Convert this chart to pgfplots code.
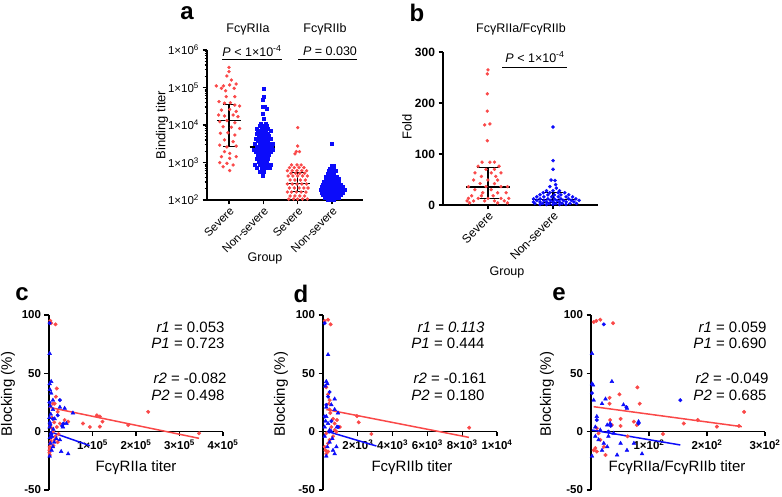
\documentclass[border=0pt]{standalone}
\usepackage{fontspec}
\setmainfont{Liberation Sans}
\usepackage{pgfplots}
\pgfplotsset{compat=1.18}
\definecolor{pr}{RGB}{250,72,72}
\definecolor{pb}{RGB}{12,12,250}
\newcommand\fs[1]{\fontsize{#1}{#1}\selectfont}
\pgfplotsset{
  prism/.style={
    scale only axis, clip=false,
    axis line style={line width=1.6pt,-},
    tick style={line width=1.3pt,black},
    tick align=outside,
    major tick length=4.5pt,
    minor tick length=2.5pt,
  },
  rdot/.style={only marks, mark=*, mark size=1.5pt, color=pr, mark options={draw=none, fill=pr}},
  bsq/.style={only marks, mark=square*, mark size=1.5pt, color=pb, mark options={draw=none, fill=pb}},
  bdot/.style={only marks, mark=*, mark size=1.6pt, color=pb, mark options={draw=none, fill=pb}},
  rdot2/.style={only marks, mark=*, mark size=1.8pt, color=pr, mark options={draw=none, fill=pr}},
  bdot2/.style={only marks, mark=*, mark size=1.8pt, color=pb, mark options={draw=none, fill=pb}},
  btri/.style={only marks, mark=triangle*, mark size=2.2pt, color=pb, mark options={draw=none, fill=pb}},
  bar/.style={black, line width=1.3pt},
  blk/.style={
    axis x line*=middle, axis y line*=left,
    ymin=-50, ymax=100, ytick={-50,0,50,100}, yticklabels={-50,0,50,100},
    tick label style={font=\bfseries\fs{11.5}},
    scaled x ticks=false, hide obscured x ticks=false, hide obscured y ticks=false,
  },
}
\begin{document}
\begin{tikzpicture}
\path[use as bounding box] (0,0) rectangle (782pt,496pt);

% ---------- panel a ----------
\begin{axis}[prism, at={(207pt,296pt)}, anchor=south west, width=156pt, height=150pt,
  axis lines*=left, ymode=log, xmin=-0.64, xmax=3.9, ymin=1e2, ymax=1e6,
  xtick={0,1,2,3}, xticklabels={Severe,Non-severe,Severe,Non-severe},
  xticklabel style={rotate=45, anchor=north east, font=\fs{11.5}, inner sep=1pt},
  ytick={1e2,1e3,1e4,1e5,1e6},
  yticklabels={1×10\textsuperscript{2},1×10\textsuperscript{3},1×10\textsuperscript{4},1×10\textsuperscript{5},1×10\textsuperscript{6}},
  yticklabel style={font=\fs{11.5}}]
\addplot[rdot] coordinates {
(0,3.45e5) (0,2.64e5) (-0.06,2.03e5) (0.07,1.58e5)
(-0.37,1.10e5) (-0.16,1.10e5) (0.02,1.17e5) (0.21,1.24e5)
(-0.22,9.5e4) (0.15,9.5e4) (-0.10,8.2e4)
(-0.08,5.7e4) (0.17,5.7e4)
(-0.29,4.2e4) (-0.13,3.8e4) (0.04,3.9e4) (0.17,3.4e4) (0.31,3.2e4)
(-0.22,2.5e4) (0.02,2.6e4) (0.21,2.3e4)
(-0.30,1.85e4) (-0.13,1.74e4) (0.12,1.85e4) (0.26,1.67e4)
(-0.27,1.23e4) (-0.06,1.31e4) (0.17,1.15e4)
(-0.17,9.0e3) (0.07,8.7e3) (0.31,8.1e3)
(-0.25,6.0e3) (-0.03,6.2e3) (0.17,5.4e3)
(-0.13,4.0e3) (0.12,3.6e3)
(-0.27,2.9e3) (-0.06,2.6e3) (0.21,2.75e3)
(-0.13,1.95e3) (0.02,1.75e3)
(-0.22,1.43e3) (0.02,1.29e3) (0.21,1.43e3)
(-0.27,990) (-0.06,950) (-0.17,770) (0.02,610) (0.12,860)
};
\addplot[bsq] coordinates {
(1.0,9.5e4) (1.0,5.7e4) (0.97,4.6e4) (0.97,3.1e4) (1.05,3.1e4) (1.1,2.8e4) (0.98,2.05e4) (1.0,1.5e4)
(0.92,1.1e4) (1.06,1.1e4)
(0.88,9.4e3) (0.98,9.4e3) (1.1,9.4e3)
(0.82,8.1e3) (0.94,8.1e3) (1.02,8.1e3) (1.14,8.1e3)
(0.85,6.9e3) (0.96,6.9e3) (1.08,6.9e3) (1.2,6.9e3)
(0.8,6.0e3) (0.9,6.0e3) (1.0,6.0e3) (1.12,6.0e3)
(0.86,5.1e3) (0.96,5.1e3) (1.06,5.1e3) (1.16,5.1e3)
(0.78,4.3e3) (0.9,4.3e3) (1.0,4.3e3) (1.1,4.3e3) (1.2,4.3e3)
(0.84,3.7e3) (0.94,3.7e3) (1.04,3.7e3) (1.14,3.7e3)
(0.76,3.1e3) (0.88,3.1e3) (0.98,3.1e3) (1.08,3.1e3) (1.18,3.1e3) (1.28,3.1e3)
(0.8,2.6e3) (0.92,2.6e3) (1.02,2.6e3) (1.12,2.6e3) (1.24,2.6e3)
(0.72,2.2e3) (0.84,2.2e3) (0.96,2.2e3) (1.06,2.2e3) (1.16,2.2e3) (1.26,2.2e3)
(0.78,1.9e3) (0.9,1.9e3) (1.0,1.9e3) (1.1,1.9e3) (1.2,1.9e3)
(0.84,1.6e3) (0.96,1.6e3) (1.06,1.6e3) (1.16,1.6e3)
(0.8,1.3e3) (0.92,1.3e3) (1.04,1.3e3) (1.14,1.3e3)
(0.86,1.07e3) (0.98,1.07e3) (1.1,1.07e3)
(0.76,875) (0.88,875) (1.0,875) (1.12,875) (1.22,875)
(0.82,710) (0.94,710) (1.06,710) (1.18,710)
(0.9,580) (1.02,580) (0.98,440)
};
\addplot[rdot] coordinates {
(2.0,8.5e3) (2.0,2.75e3) (1.96,1.95e3) (2.05,1.95e3) (1.92,1.7e3)
(1.82,860) (1.98,860) (2.1,860)
(1.76,730) (1.9,730) (2.04,730) (2.18,730)
(1.7,605) (1.84,605) (1.98,605) (2.12,605) (2.26,605)
(1.8,515) (1.94,515) (2.06,515) (2.2,515)
(1.72,437) (1.86,437) (2.0,437) (2.14,437) (2.28,437)
(1.78,341) (1.92,341) (2.08,341) (2.22,341)
(1.7,267) (1.84,267) (1.98,267) (2.12,267) (2.26,267)
(1.76,209) (1.9,209) (2.04,209) (2.18,209) (2.3,209)
(1.7,163) (1.82,163) (1.96,163) (2.1,163) (2.24,163)
(1.78,128) (1.92,128) (2.06,128) (2.2,128)
(1.74,106) (1.88,106) (2.0,106) (2.14,106) (2.28,106)
};
\addplot[bsq] coordinates {
(3.0,3.25e3) (2.98,825) (3.06,825) (2.92,700) (3.04,700)
(2.9,593) (3.0,593) (3.1,593)
(2.86,503) (2.96,503) (3.06,503)
(2.82,428) (2.94,428) (3.04,428) (3.14,428)
(2.8,363) (2.9,363) (3.0,363) (3.1,363) (3.2,363)
(2.76,308) (2.88,308) (2.98,308) (3.08,308) (3.18,308)
(2.72,262) (2.84,262) (2.94,262) (3.04,262) (3.14,262) (3.24,262)
(2.7,222) (2.8,222) (2.9,222) (3.0,222) (3.1,222) (3.2,222) (3.3,222)
(2.66,189) (2.76,189) (2.86,189) (2.96,189) (3.06,189) (3.16,189) (3.26,189) (3.36,189)
(2.7,160) (2.8,160) (2.9,160) (3.0,160) (3.1,160) (3.2,160) (3.3,160)
(2.74,136) (2.84,136) (2.94,136) (3.04,136) (3.14,136) (3.24,136)
(2.78,115) (2.88,115) (2.98,115) (3.08,115) (3.18,115)
(2.86,102) (2.96,102) (3.06,102)
};
% median and interquartile range
\addplot[bar] coordinates {(-0.35,1.3e4) (0.35,1.3e4)};
\addplot[bar] coordinates {(0,2.7e3) (0,3.5e4)};
\addplot[bar] coordinates {(-0.17,2.7e3) (0.17,2.7e3)};
\addplot[bar] coordinates {(-0.17,3.5e4) (0.17,3.5e4)};
\addplot[bar] coordinates {(0.6,2.6e3) (1.35,2.6e3)};
\addplot[bar] coordinates {(1,1.2e3) (1,4.3e3)};
\addplot[bar] coordinates {(0.83,1.2e3) (1.17,1.2e3)};
\addplot[bar] coordinates {(0.83,4.3e3) (1.17,4.3e3)};
\addplot[bar] coordinates {(1.65,270) (2.35,270)};
\addplot[bar] coordinates {(2,165) (2,540)};
\addplot[bar] coordinates {(1.83,165) (2.17,165)};
\addplot[bar] coordinates {(1.83,540) (2.17,540)};
\addplot[bar] coordinates {(2.65,205) (3.35,205)};
\addplot[bar] coordinates {(3,145) (3,270)};
\addplot[bar] coordinates {(2.83,145) (3.17,145)};
\addplot[bar] coordinates {(2.83,270) (3.17,270)};
\end{axis}

% ---------- panel b ----------
\begin{axis}[prism, at={(443pt,291pt)}, anchor=south west, width=155pt, height=153pt,
  axis lines*=left, xmin=-0.69, xmax=1.69, ymin=0, ymax=300,
  xtick={0,1}, xticklabels={Severe,Non-severe},
  xticklabel style={rotate=45, anchor=north east, font=\fs{12}, inner sep=1pt},
  ytick={0,100,200,300}, yticklabels={0,100,200,300},
  yticklabel style={font=\bfseries\fs{12}}]
\addplot[rdot] coordinates {
(0,265) (-0.01,257) (-0.01,218) (-0.01,184) (-0.05,157) (0.03,159) (-0.01,126)
(-0.09,84) (0.03,84) (0.1,84) (-0.15,76) (0.17,76) (-0.03,70) (0.1,70)
(-0.2,63) (0.05,63) (0.2,63) (-0.1,56) (0.12,56)
(-0.22,49) (0.0,49) (0.15,49) (-0.12,42) (0.1,42)
(-0.3,36) (-0.03,36) (0.2,36) (0.3,36) (-0.2,30) (0.05,30)
(-0.08,24) (0.15,24) (0.28,24) (-0.25,18) (-0.1,18) (0.08,18)
(-0.3,13) (-0.15,13) (0.0,13) (0.2,13) (0.32,13)
(-0.32,8) (-0.22,8) (-0.05,8) (0.1,8) (0.25,8)
(-0.28,4) (0.15,4) (0.3,4)
};
\addplot[bdot] coordinates {
(1.0,153) (1.0,87) (1.0,70) (0.97,49) (1.03,48) (1.04,40) (0.95,36) (1.05,33)
(0.9,28) (1.0,28) (1.1,28)
(0.85,24) (0.95,24) (1.08,24) (1.18,24)
(0.8,20) (0.92,20) (1.02,20) (1.12,20) (1.24,20)
(0.75,16) (0.86,16) (0.98,16) (1.08,16) (1.2,16) (1.3,16)
(0.7,12) (0.8,12) (0.92,12) (1.02,12) (1.12,12) (1.24,12) (1.35,12)
(0.75,9) (0.86,9) (0.96,9) (1.06,9) (1.16,9) (1.28,9) (1.4,9)
(0.7,6) (0.8,6) (0.9,6) (1.0,6) (1.1,6) (1.2,6) (1.32,6)
(0.72,3) (0.84,3) (0.94,3) (1.04,3) (1.14,3) (1.26,3) (1.36,3)
(0.8,1) (0.9,1) (1.0,1) (1.1,1) (1.2,1)
};
\addplot[bar] coordinates {(-0.34,35) (0.34,35)};
\addplot[bar] coordinates {(0,13) (0,73)};
\addplot[bar] coordinates {(-0.17,13) (0.17,13)};
\addplot[bar] coordinates {(-0.17,73) (0.17,73)};
\addplot[bar] coordinates {(0.68,11) (1.34,11)};
\addplot[bar] coordinates {(1,5) (1,24)};
\addplot[bar] coordinates {(0.85,5) (1.15,5)};
\addplot[bar] coordinates {(0.85,24) (1.15,24)};
\end{axis}

% ---------- panel c ----------
\begin{axis}[prism, blk, at={(49pt,6pt)}, anchor=south west, width=174pt, height=175pt,
  xmin=0, xmax=4e5, xtick={1e5,2e5,3e5,4e5},
  xticklabels={1×10\textsuperscript{5},2×10\textsuperscript{5},3×10\textsuperscript{5},4×10\textsuperscript{5}}]
\addplot[rdot2] coordinates {
(3e3,95) (5e3,93) (1.5e4,92) (1e3,-16) (2e3,-20) (1.5e3,-13) (3e3,-10) (1e3,-18) (2e3,-15)
(1.6e4,30) (1.8e4,37) (1.3e4,24) (9e3,24) (2e4,17) (2.5e4,7) (3.6e4,10) (4.4e4,8.6)
(7.8e4,7) (9.4e4,4) (1.1e5,14) (1.17e5,13) (1.17e5,4.3) (1.23e5,8.6) (1.82e5,5.7)
(2.28e5,17) (3.45e5,-1.4) (1.3e4,-7) (1.5e4,-4) (1.8e4,4) (9e3,0) (5e3,-5) (6e3,3)
(1.2e4,8) (2.2e4,-2) (7e3,12) (4e3,-8) (1e4,-12) (2e4,-9) (3e3,5)
};
\addplot[btri] coordinates {
(1.5e3,67) (5e3,43) (1.5e3,41) (2e3,36) (5e3,33) (9e3,27) (2.5e4,21) (3.6e4,20) (5.5e4,16)
(4e4,7) (3.2e4,4) (2.5e4,-7) (2.8e4,-17) (4.4e4,-19) (1.5e3,-21) (9e3,-13) (1.7e4,-6)
(5e3,-1.4) (1.3e4,11) (9e3,19) (1.5e3,4) (3e3,-10) (6e3,-16) (2e3,8) (4e3,15) (1e4,2)
(7e3,-4) (1.2e4,-9) (2e3,-5) (3e3,22) (1e3,12)
};
\addplot[bdot2] coordinates {
(1.5e3,93) (2.5e4,27) (3e4,5) (3.3e4,7) (2e4,14) (9e3,11) (1e3,25) (4e3,-2) (3e3,6)
};
\addplot[pr, line width=1.5pt] coordinates {(0,20.9) (3.45e5,-5.7)};
\addplot[pb, line width=1.5pt] coordinates {(2e3,0) (9.4e4,-12)};
\end{axis}

% ---------- panel d ----------
\begin{axis}[prism, blk, at={(323pt,6pt)}, anchor=south west, width=174pt, height=175pt,
  xmin=0, xmax=1e4, xtick={2e3,4e3,6e3,8e3,1e4},
  xticklabels={2×10\textsuperscript{3},4×10\textsuperscript{3},6×10\textsuperscript{3},8×10\textsuperscript{3},1×10\textsuperscript{4}}]
\addplot[rdot2] coordinates {
(96,95) (290,96) (440,92) (190,38) (290,32) (380,27) (8400,3.4) (1950,13.4) (2050,8)
(2780,-2) (380,19) (575,11) (670,7) (480,4) (190,-1.4) (290,-10) (150,-16) (190,-19)
(575,-4) (770,0) (420,16) (345,24) (800,10) (960,4) (670,1.4) (380,-7) (96,-13) (290,-17)
};
\addplot[btri] coordinates {
(290,66) (190,43) (250,41) (130,39) (670,28) (480,23) (860,16) (800,4) (670,-19) (575,-16)
(190,-21) (380,-9) (96,-4) (480,0) (290,7) (190,13) (670,19) (770,-13) (96,4) (380,1.4)
(190,21) (535,-6) (250,-13) (150,9)
};
\addplot[bdot2] coordinates {
(96,93) (380,34) (290,30) (860,4) (480,9) (190,23) (96,13) (345,0)
};
\addplot[pr, line width=1.5pt] coordinates {(190,19) (8390,-4.9)};
\addplot[pb, line width=1.5pt] coordinates {(300,0) (3070,-12.3)};
\end{axis}

% ---------- panel e ----------
\begin{axis}[prism, blk, at={(591pt,6pt)}, anchor=south west, width=174pt, height=175pt,
  xmin=0, xmax=300, xtick={100,200,300},
  xticklabels={1×10\textsuperscript{2},2×10\textsuperscript{2},3×10\textsuperscript{2}}]
\addplot[rdot2] coordinates {
(4.6,94) (9.2,95) (16,96) (38,93) (80,38) (84,24) (49,32) (32,29) (32,24) (160,7) (184,10)
(217,4.3) (255,4.9) (264,17) (124,-2) (63,-4) (51,11) (74,8.6) (33,10) (51,4.9) (36,5.7)
(10,3) (7.5,-14) (10,-17) (4.6,-16) (25,-20) (16,-7) (13,-1.4) (22,-13) (79,5.7)
};
\addplot[btri] coordinates {
(1.7,67) (3.4,40) (36,43) (56,23) (62,20) (82,8.6) (88,-19) (45,-20) (1.7,-21) (7.5,-4)
(16,1.4) (22,-10) (28,-13) (30,-4) (39,-1.4) (51,-10) (10,13) (19,24) (25,28) (33,7)
(4.6,27) (13,-7) (19,-16) (7.5,4) (62,-16) (74,-10) (1.7,41) (28,5.7)
};
\addplot[bdot2] coordinates {
(22,92) (154,27) (1.7,33) (61,21) (82,7) (34,5) (30,0) (10,10)
};
\addplot[pr, line width=1.5pt] coordinates {(4.6,21.4) (260,4.3)};
\addplot[pb, line width=1.5pt] coordinates {(1.7,1.4) (154,-11.4)};
\end{axis}

% ---------- text ----------
\node[font=\bfseries\fs{24}] at (187pt,483pt) {a};
\node[font=\bfseries\fs{24}] at (417pt,483pt) {b};
\node[font=\bfseries\fs{24}] at (22pt,202pt) {c};
\node[font=\bfseries\fs{24}] at (301pt,202pt) {d};
\node[font=\bfseries\fs{24}] at (559pt,202pt) {e};

\node[font=\fs{12.5}] at (248pt,467pt) {FcγRIIa};
\node[font=\fs{12.5}] at (325pt,467pt) {FcγRIIb};
\node[font=\fs{12.5}] at (521pt,467pt) {FcγRIIa/FcγRIIb};
\node[font=\fs{12.5}] at (252pt,445pt) {\textit{P} < 1×10\textsuperscript{-4}};
\node[font=\fs{12.5}] at (330pt,445pt) {\textit{P} = 0.030};
\node[font=\fs{12.5}] at (535pt,439pt) {\textit{P} < 1×10\textsuperscript{-4}};
\draw[line width=0.8pt] (222pt,437pt) -- (282pt,437pt);
\draw[line width=0.8pt] (298pt,437pt) -- (357pt,437pt);
\draw[line width=0.8pt] (502pt,429pt) -- (567pt,429pt);
\node[font=\fs{13}, rotate=90] at (162pt,371pt) {Binding titer};
\node[font=\fs{13}, rotate=90] at (407pt,369pt) {Fold};
\node[font=\fs{12.5}] at (265pt,238pt) {Group};
\node[font=\fs{12.5}] at (507pt,224pt) {Group};

\node[font=\fs{15}, rotate=90] at (8pt,102pt) {Blocking (\%)};
\node[font=\fs{15}, rotate=90] at (281pt,102pt) {Blocking (\%)};
\node[font=\fs{15}, rotate=90] at (547pt,102pt) {Blocking (\%)};
\node[font=\fs{15}] at (136pt,28pt) {FcγRIIa titer};
\node[font=\fs{15}] at (412pt,28pt) {FcγRIIb titer};
\node[font=\fs{15}] at (677pt,28pt) {FcγRIIa/FcγRIIb titer};

\node[font=\fs{15}, anchor=east] at (228pt,169pt) {\textit{r1} = 0.053};
\node[font=\fs{15}, anchor=east] at (228pt,153pt) {\textit{P1} = 0.723};
\node[font=\fs{15}, anchor=east] at (230pt,118pt) {\textit{r2} = -0.082};
\node[font=\fs{15}, anchor=east] at (228pt,101pt) {\textit{P2} = 0.498};
\node[font=\fs{15}, anchor=east] at (488pt,169pt) {\textit{r1 = 0.113}};
\node[font=\fs{15}, anchor=east] at (488pt,153pt) {\textit{P1} = 0.444};
\node[font=\fs{15}, anchor=east] at (490pt,118pt) {\textit{r2} = -0.161};
\node[font=\fs{15}, anchor=east] at (488pt,101pt) {\textit{P2} = 0.180};
\node[font=\fs{15}, anchor=east] at (770pt,169pt) {\textit{r1} = 0.059};
\node[font=\fs{15}, anchor=east] at (770pt,153pt) {\textit{P1} = 0.690};
\node[font=\fs{15}, anchor=east] at (772pt,118pt) {\textit{r2} = -0.049};
\node[font=\fs{15}, anchor=east] at (770pt,101pt) {\textit{P2} = 0.685};
\end{tikzpicture}
\end{document}
